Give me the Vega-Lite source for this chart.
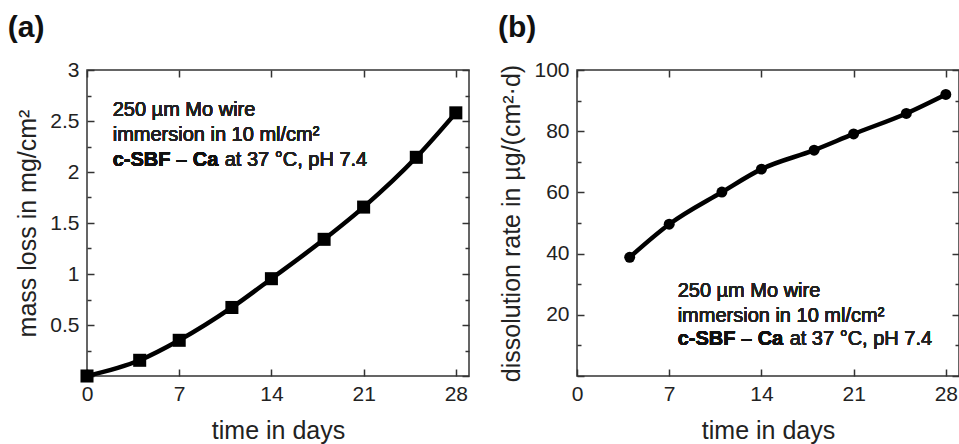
{
  "$schema": "https://vega.github.io/schema/vega-lite/v6.json",
  "padding": {"left": 7, "top": 12, "right": 0, "bottom": 0},
  "spacing": 26,
  "config": {
    "font": "Liberation Sans",
    "view": {"stroke": "#333", "strokeWidth": 1.5},
    "axis": {
      "domain": false, "grid": false, "ticks": true, "tickColor": "#333", "tickWidth": 1.5, "tickOpacity": 1,
      "labelFont": "Liberation Sans", "labelFontSize": 21, "labelColor": "#222", "labelFlush": false,
      "titleFont": "Liberation Sans", "titleFontSize": 25, "titleFontWeight": "normal", "titleColor": "#222"
    },
    "title": {"font": "Liberation Sans"}
  },
  "datasets": {
    "mass": [
      {"day": 0, "mass": 0.0},
      {"day": 4, "mass": 0.154},
      {"day": 7, "mass": 0.35},
      {"day": 11, "mass": 0.672},
      {"day": 14, "mass": 0.954},
      {"day": 18, "mass": 1.34},
      {"day": 21, "mass": 1.656},
      {"day": 25, "mass": 2.144},
      {"day": 28, "mass": 2.58}
    ],
    "rate": [
      {"day": 4, "rate": 38.8},
      {"day": 7, "rate": 49.6},
      {"day": 11, "rate": 60.1},
      {"day": 14, "rate": 67.6},
      {"day": 18, "rate": 73.8},
      {"day": 21, "rate": 79.1},
      {"day": 25, "rate": 85.8},
      {"day": 28, "rate": 92.0}
    ]
  },
  "hconcat": [
    {
      "width": 382,
      "height": 306,
      "title": {"text": "(a)", "anchor": "start", "frame": "bounds", "fontSize": 30, "fontWeight": "bold", "color": "#111", "offset": 16, "dx": -8},
      "data": {"name": "mass"},
      "resolve": {"axis": {"x": "independent", "y": "independent"}},
      "layer": [
        {
          "mark": {"type": "line", "color": "black", "strokeWidth": 4.5, "interpolate": "monotone"},
          "encoding": {
            "x": {"field": "day", "type": "quantitative", "scale": {"domain": [0, 29], "nice": false},
                  "axis": {"orient": "bottom", "values": [0, 7, 14, 21, 28], "title": "time in days", "offset": -7, "tickSize": 7, "labelPadding": 7, "titlePadding": 14}},
            "y": {"field": "mass", "type": "quantitative", "scale": {"domain": [0, 3], "nice": false},
                  "axis": {"orient": "left", "values": [0, 0.5, 1, 1.5, 2, 2.5, 3], "format": "~g",
                           "labelExpr": "datum.value > 0 ? datum.label : ''",
                           "offset": -7, "tickSize": 7, "labelPadding": 8,
                           "title": "mass loss in mg/cm²", "titlePadding": 9}}
          }
        },
        {
          "mark": {"type": "square", "color": "black", "filled": true, "opacity": 1, "size": 170},
          "encoding": {
            "x": {"field": "day", "type": "quantitative",
                  "axis": {"orient": "top", "values": [0, 7, 14, 21, 28], "labels": false, "title": null, "offset": -7, "tickSize": 7}},
            "y": {"field": "mass", "type": "quantitative",
                  "axis": {"orient": "right", "values": [0, 0.5, 1, 1.5, 2, 2.5, 3], "labels": false, "title": null, "offset": -7, "tickSize": 7}}
          }
        },
        {
          "mark": {"type": "point", "opacity": 0},
          "encoding": {
            "x": {"field": "day", "type": "quantitative", "axis": null},
            "y": {"field": "mass", "type": "quantitative",
                  "axis": {"orient": "left", "values": [0.25, 0.75, 1.25, 1.75, 2.25, 2.75], "labels": false, "title": null, "offset": -4, "tickSize": 4}}
          }
        },
        {
          "mark": {"type": "point", "opacity": 0},
          "encoding": {
            "x": {"field": "day", "type": "quantitative", "axis": null},
            "y": {"field": "mass", "type": "quantitative",
                  "axis": {"orient": "right", "values": [0.25, 0.75, 1.25, 1.75, 2.25, 2.75], "labels": false, "title": null, "offset": -4, "tickSize": 4}}
          }
        },
        {
          "mark": {"type": "text", "align": "left", "baseline": "alphabetic", "fontSize": 20, "fontWeight": "normal", "color": "#222", "lineBreak": "\n", "lineHeight": 25},
          "encoding": {
            "x": {"datum": 1.95, "type": "quantitative", "axis": null},
            "y": {"datum": 2.55, "type": "quantitative", "axis": null},
            "text": {"value": "250 µm Mo wire\nimmersion in 10 ml/cm²"}
          }
        },
        {
          "mark": {"type": "text", "align": "left", "baseline": "alphabetic", "fontSize": 20, "fontWeight": "bold", "color": "#111"},
          "encoding": {
            "x": {"datum": 1.95, "type": "quantitative", "axis": null},
            "y": {"datum": 2.06, "type": "quantitative", "axis": null},
            "text": {"value": "c-SBF – Ca"}
          }
        },
        {
          "mark": {"type": "text", "align": "left", "baseline": "alphabetic", "fontSize": 20, "fontWeight": "normal", "color": "#222", "dx": 112},
          "encoding": {
            "x": {"datum": 1.95, "type": "quantitative", "axis": null},
            "y": {"datum": 2.06, "type": "quantitative", "axis": null},
            "text": {"value": "at 37 °C, pH 7.4"}
          }
        }
      ]
    },
    {
      "width": 382,
      "height": 306,
      "title": {"text": "(b)", "anchor": "start", "frame": "bounds", "fontSize": 30, "fontWeight": "bold", "color": "#111", "offset": 16, "dx": -2},
      "data": {"name": "rate"},
      "resolve": {"axis": {"x": "independent", "y": "independent"}},
      "layer": [
        {
          "mark": {"type": "line", "color": "black", "strokeWidth": 4.5, "interpolate": "monotone"},
          "encoding": {
            "x": {"field": "day", "type": "quantitative", "scale": {"domain": [0, 29], "nice": false},
                  "axis": {"orient": "bottom", "values": [0, 7, 14, 21, 28], "title": "time in days", "offset": -7, "tickSize": 7, "labelPadding": 7, "titlePadding": 14}},
            "y": {"field": "rate", "type": "quantitative", "scale": {"domain": [0, 100], "nice": false},
                  "axis": {"orient": "left", "values": [0, 20, 40, 60, 80, 100],
                           "labelExpr": "datum.value > 0 ? datum.label : ''",
                           "offset": -7, "tickSize": 7, "labelPadding": 8,
                           "title": "dissolution rate in µg/(cm²·d)", "titlePadding": 9}}
          }
        },
        {
          "mark": {"type": "circle", "color": "black", "opacity": 1, "size": 120},
          "encoding": {
            "x": {"field": "day", "type": "quantitative",
                  "axis": {"orient": "top", "values": [0, 7, 14, 21, 28], "labels": false, "title": null, "offset": -7, "tickSize": 7}},
            "y": {"field": "rate", "type": "quantitative",
                  "axis": {"orient": "right", "values": [0, 20, 40, 60, 80, 100], "labels": false, "title": null, "offset": -7, "tickSize": 7}}
          }
        },
        {
          "mark": {"type": "point", "opacity": 0},
          "encoding": {
            "x": {"field": "day", "type": "quantitative", "axis": null},
            "y": {"field": "rate", "type": "quantitative",
                  "axis": {"orient": "left", "values": [10, 30, 50, 70, 90], "labels": false, "title": null, "offset": -4, "tickSize": 4}}
          }
        },
        {
          "mark": {"type": "point", "opacity": 0},
          "encoding": {
            "x": {"field": "day", "type": "quantitative", "axis": null},
            "y": {"field": "rate", "type": "quantitative",
                  "axis": {"orient": "right", "values": [10, 30, 50, 70, 90], "labels": false, "title": null, "offset": -4, "tickSize": 4}}
          }
        },
        {
          "mark": {"type": "text", "align": "left", "baseline": "alphabetic", "fontSize": 20, "fontWeight": "normal", "color": "#222", "lineBreak": "\n", "lineHeight": 25},
          "encoding": {
            "x": {"datum": 7.64, "type": "quantitative", "axis": null},
            "y": {"datum": 25.9, "type": "quantitative", "axis": null},
            "text": {"value": "250 µm Mo wire\nimmersion in 10 ml/cm²"}
          }
        },
        {
          "mark": {"type": "text", "align": "left", "baseline": "alphabetic", "fontSize": 20, "fontWeight": "bold", "color": "#111"},
          "encoding": {
            "x": {"datum": 7.64, "type": "quantitative", "axis": null},
            "y": {"datum": 10.1, "type": "quantitative", "axis": null},
            "text": {"value": "c-SBF – Ca"}
          }
        },
        {
          "mark": {"type": "text", "align": "left", "baseline": "alphabetic", "fontSize": 20, "fontWeight": "normal", "color": "#222", "dx": 112},
          "encoding": {
            "x": {"datum": 7.64, "type": "quantitative", "axis": null},
            "y": {"datum": 10.1, "type": "quantitative", "axis": null},
            "text": {"value": "at 37 °C, pH 7.4"}
          }
        }
      ]
    }
  ]
}
